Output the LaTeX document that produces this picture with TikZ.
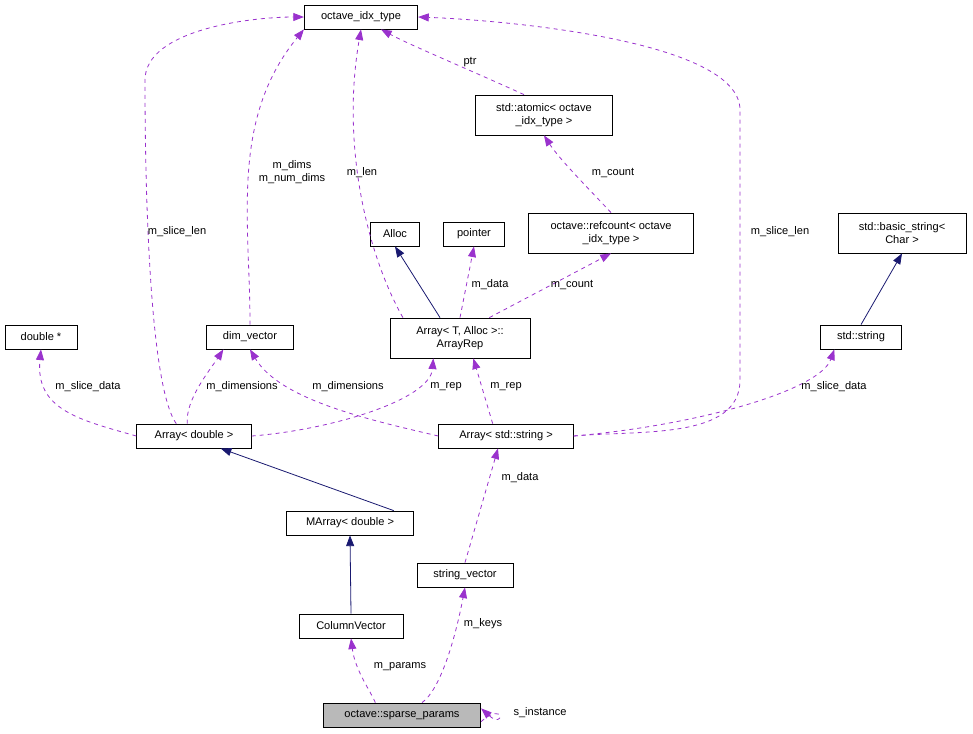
\documentclass[tikz,border=0pt]{standalone}
\usepackage{fontspec}
\setmainfont{Liberation Sans}
\usetikzlibrary{arrows.meta}
\definecolor{dep}{HTML}{9A32CD}
\definecolor{inh}{HTML}{191970}
\begin{document}
\begin{tikzpicture}[x=0.75pt,y=-0.75pt,line width=0.6pt,
 box/.style={draw,fill=white,inner sep=0pt,minimum height=18pt,font=\fontsize{8.3}{9.8}\selectfont,align=center},
 box2/.style={box,minimum height=30pt},
 use/.style={draw=dep,dashed,-{Triangle[width=6pt,length=8pt]},fill=none},
 isa/.style={draw=inh,-{Triangle[width=6pt,length=8pt,fill=inh]}},
 lab/.style={font=\fontsize{8.3}{9.8}\selectfont,align=center,inner sep=1pt}]
\useasboundingbox (0,0) rectangle (973,733);
\node[box,minimum width=85pt] (oit) at (361,17) {octave\_idx\_type};
\node[box2,minimum width=103pt] (atom) at (544,115) {std::atomic< octave\\\_idx\_type >};
\node[box,minimum width=37pt] (alloc) at (395,234) {Alloc};
\node[box,minimum width=46pt] (ptr) at (474,234) {pointer};
\node[box2,minimum width=124pt] (ref) at (611,233) {octave::refcount< octave\\\_idx\_type >};
\node[box2,minimum width=96pt] (bs) at (902,233) {std::basic\_string<\\Char >};
\node[box,minimum width=54pt] (dbl) at (41,337) {double *};
\node[box,minimum width=65pt] (dim) at (250,337) {dim\_vector};
\node[box2,minimum width=105pt] (rep) at (460,338) {Array< T, Alloc >::\\ArrayRep};
\node[box,minimum width=61pt] (str) at (861,337) {std::string};
\node[box,minimum width=86pt] (ad) at (194,436) {Array< double >};
\node[box,minimum width=101pt] (as) at (506,436) {Array< std::string >};
\node[box,minimum width=95pt] (ma) at (350,523) {MArray< double >};
\node[box,minimum width=72pt] (sv) at (465,575) {string\_vector};
\node[box,minimum width=78pt] (cv) at (351,626) {ColumnVector};
\node[box,minimum width=118pt,fill=gray!55] (sp) at (402,715) {octave::sparse\_params};

\draw[use] (ad.north west) ++(40,0) .. controls (145,380) and (145,120) .. (145,80) .. controls (145,30) and (250,17) .. (oit.west);
\node[lab] at (177,232) {m\_slice\_len};
\draw[use] (dim.north) .. controls (250,220) and (230,120) .. (oit.south west);
\node[lab] at (292,172) {m\_dims\\m\_num\_dims};
\draw[use] ([xshift=10pt]rep.north west) .. controls (370,260) and (340,150) .. (oit.south);
\node[lab] at (362,173) {m\_len};
\draw[use] ([xshift=-15pt]atom.north) .. controls (470,70) and (410,45) .. ([xshift=15pt]oit.south);
\node[lab] at (470,62) {ptr};
\draw[use] (ref.north) .. controls (590,190) and (560,160) .. (atom.south);
\node[lab] at (613,173) {m\_count};
\draw[use] (as.east) .. controls (640,430) and (740,440) .. (740,380) -- (740,110) .. controls (740,40) and (500,20) .. (oit.east);
\node[lab] at (780,232) {m\_slice\_len};
\draw[isa] ([xshift=-15pt]rep.north) -- (alloc.south);
\draw[use] ([xshift=0pt]rep.north) -- (ptr.south);
\node[lab] at (490,285) {m\_data};
\draw[use] ([xshift=22pt]rep.north) -- (ref.south);
\node[lab] at (572,285) {m\_count};
\draw[isa] (str.north) -- (bs.south);
\draw[use] (ad.west) .. controls (80,420) and (35,410) .. (dbl.south);
\node[lab] at (88,387) {m\_slice\_data};
\draw[use] ([xshift=-5pt]ad.north) .. controls (185,400) and (210,370) .. ([xshift=-20pt]dim.south);
\node[lab] at (242,387) {m\_dimensions};
\draw[use] (ad.east) .. controls (330,430) and (430,400) .. ([xshift=-20pt]rep.south);
\node[lab] at (446,387) {m\_rep};
\draw[use] (as.west) .. controls (370,420) and (280,400) .. (dim.south);
\node[lab] at (348,387) {m\_dimensions};
\draw[use] ([xshift=-10pt]as.north) -- ([xshift=10pt]rep.south);
\node[lab] at (506,387) {m\_rep};
\draw[use] (as.east) .. controls (700,425) and (820,390) .. ([xshift=-20pt]str.south);
\node[lab] at (834,387) {m\_slice\_data};
\draw[isa] ([xshift=-15pt]ma.north east) -- ([xshift=20pt]ad.south);
\draw[isa] (cv.north) -- (ma.south);
\draw[use] (sv.north) -- ([xshift=-6pt]as.south);
\node[lab] at (520,478) {m\_data};
\draw[use] ([xshift=-20pt]sp.north) .. controls (370,690) and (355,670) .. (cv.south);
\node[lab] at (400,667) {m\_params};
\draw[use] ([xshift=15pt]sp.north) .. controls (440,690) and (455,640) .. (sv.south);
\node[lab] at (483,624) {m\_keys};
\draw[use] ([yshift=-5pt]sp.east) .. controls (505,700) and (505,730) .. ([yshift=5pt]sp.east);
\node[lab] at (540,713) {s\_instance};
\end{tikzpicture}
\end{document}
